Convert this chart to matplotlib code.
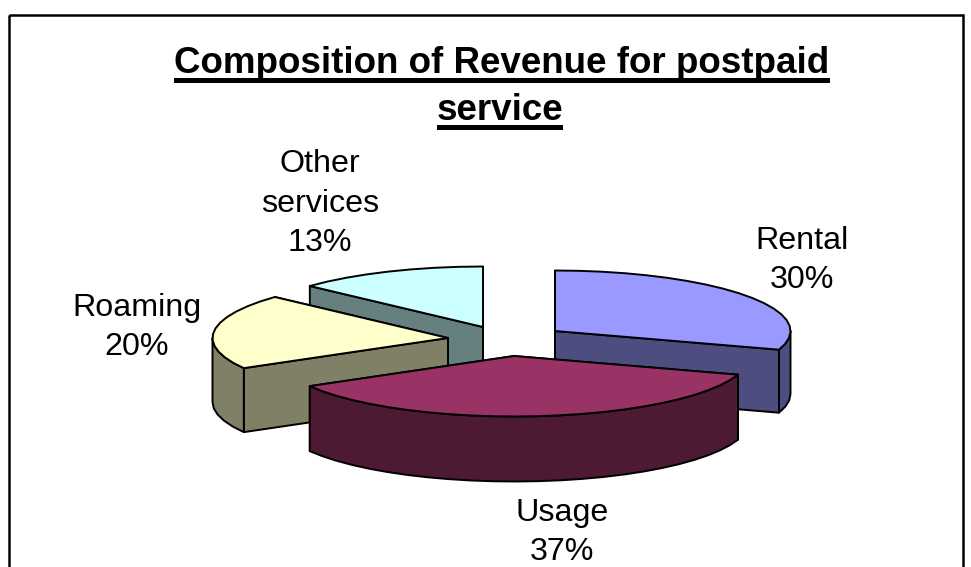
import numpy as np
import matplotlib
matplotlib.use("Agg")
import matplotlib.pyplot as plt
from matplotlib.patches import Polygon, Rectangle

plt.rcParams["font.family"] = ["Liberation Sans", "DejaVu Sans"]

# data
categories = ["Rental", "Usage", "Roaming", "Other\nservices"]
shares = [30.0, 36.7, 20.15, 13.15]
top_colors = ["#9999FF", "#993366", "#FFFFCC", "#CCFFFF"]
side_colors = ["#4D4D80", "#4D1933", "#808066", "#668080"]
title_lines = ["Composition of Revenue for postpaid", "service"]

# layout, in pixels of the 971x567 picture
apex_x = [555, 514, 448, 483]
apex_y = [331, 356, 338, 327]
depths = [63, 65, 64, 63]
label_x = [802, 562, 137, 320]
label_y = [258, 530, 325, 201]
title_x = [502, 500]
title_base = [73, 120]
rx, ry = 235.5, 60.5
line_w = 1.4


def rim(cx, cy, a0, a1, step=5.5):
    # coarse steps, the original outline is visibly faceted too
    n = max(int(abs(a1 - a0) / step), 1)
    t = np.radians(np.linspace(a0, a1, n + 1))
    return np.column_stack([cx + rx * np.sin(t), cy - ry * np.cos(t)])


fig = plt.figure(figsize=(9.71, 5.67), dpi=100)
ax = fig.add_axes([0, 0, 1, 1])
ax.set_xlim(0, 971)
ax.set_ylim(567, 0)
ax.axis("off")

# frame runs off the bottom of the picture
ax.add_patch(Rectangle((9, 15), 954, 600, fill=False, ec="black", lw=1.8))

# slice angles, clockwise from 12 o'clock
edges = np.cumsum([0] + shares) * 3.6
style = dict(ec="black", lw=line_w, joinstyle="round")

# painter's order: back slices first
for i in [3, 2, 0, 1]:
    cx, cy = apex_x[i], apex_y[i]
    a0, a1 = edges[i], edges[i + 1]
    down = np.array([0, depths[i]])

    # flat walls from the apex out to the rim
    for a in (a1, a0):
        end = rim(cx, cy, a, a)[0]
        quad = [(cx, cy), end, end + down, np.array([cx, cy]) + down]
        ax.add_patch(Polygon(quad, fc=side_colors[i], **style))

    # curved wall, only the part that faces the viewer
    lo, hi = max(a0, 90), min(a1, 270)
    if lo < hi:
        r = rim(cx, cy, lo, hi)
        ax.add_patch(Polygon(np.vstack([r, (r + down)[::-1]]), fc=side_colors[i], **style))

    ax.add_patch(Polygon(np.vstack([[(cx, cy)], rim(cx, cy, a0, a1)]), fc=top_colors[i], **style))

# labels, nudged down because va=center sits a bit high with this font
for i, name in enumerate(categories):
    ax.text(label_x[i], label_y[i] + 2.5, f"{name}\n{round(shares[i])}%", fontsize=23.2, ha="center",
            va="center", linespacing=1.42, color="black")

# title, underlined by hand
fig.canvas.draw()
renderer = fig.canvas.get_renderer()
for line, x, base in zip(title_lines, title_x, title_base):
    t = ax.text(x, base, line, fontsize=26.5, fontweight="bold", ha="center", va="baseline")
    box = t.get_window_extent(renderer).transformed(ax.transData.inverted())
    ax.add_patch(Rectangle((box.x0, base + 5), box.x1 - box.x0, 4.5, fc="black", ec="none"))

fig.savefig("out.png", dpi=100)
